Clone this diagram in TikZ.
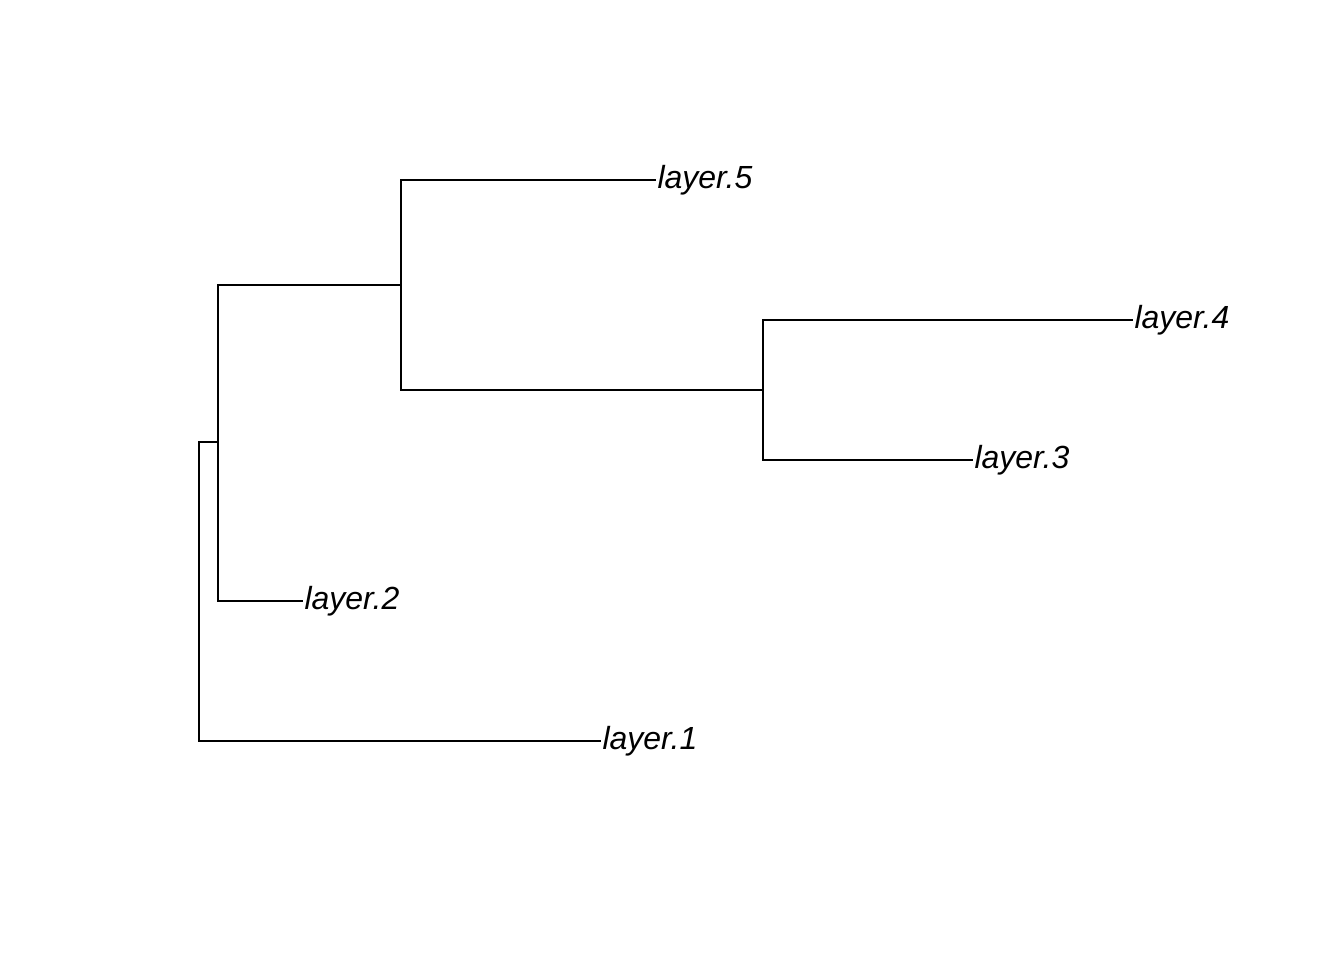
\documentclass[tikz,border=0pt]{standalone}
\usepackage{fontspec}
\setmainfont{Liberation Sans}
\begin{document}
\begin{tikzpicture}[x=0.375pt,y=-0.375pt,
  edge/.style={line width=0.75pt,line cap=rect},
  leaf/.style={anchor=base west,inner sep=0pt,font=\fontsize{12pt}{14pt}\selectfont\itshape}]
\useasboundingbox (0,0) rectangle (1344,960);
% internal nodes
\coordinate (R) at (199,442);
\coordinate (A) at (218,442);
\coordinate (B) at (401,285);
\coordinate (C) at (763,390);
% leaf ends
\coordinate (L1) at (600,741);
\coordinate (L2) at (302,601);
\coordinate (L3) at (972,460);
\coordinate (L4) at (1132,320);
\coordinate (L5) at (655,180);
% labels
\node[leaf] (t1) at (602,749) {layer.1};
\node[leaf] (t2) at (304,609) {layer.2};
\node[leaf] (t3) at (974,468) {layer.3};
\node[leaf] (t4) at (1134,328) {layer.4};
\node[leaf] (t5) at (657,188) {layer.5};
% edges
\draw[edge] (R) -- (A);
\draw[edge] (R) |- (L1);
\draw[edge] (A) |- (B);
\draw[edge] (A) |- (L2);
\draw[edge] (B) |- (L5);
\draw[edge] (B) |- (C);
\draw[edge] (C) |- (L4);
\draw[edge] (C) |- (L3);
\end{tikzpicture}
\end{document}
